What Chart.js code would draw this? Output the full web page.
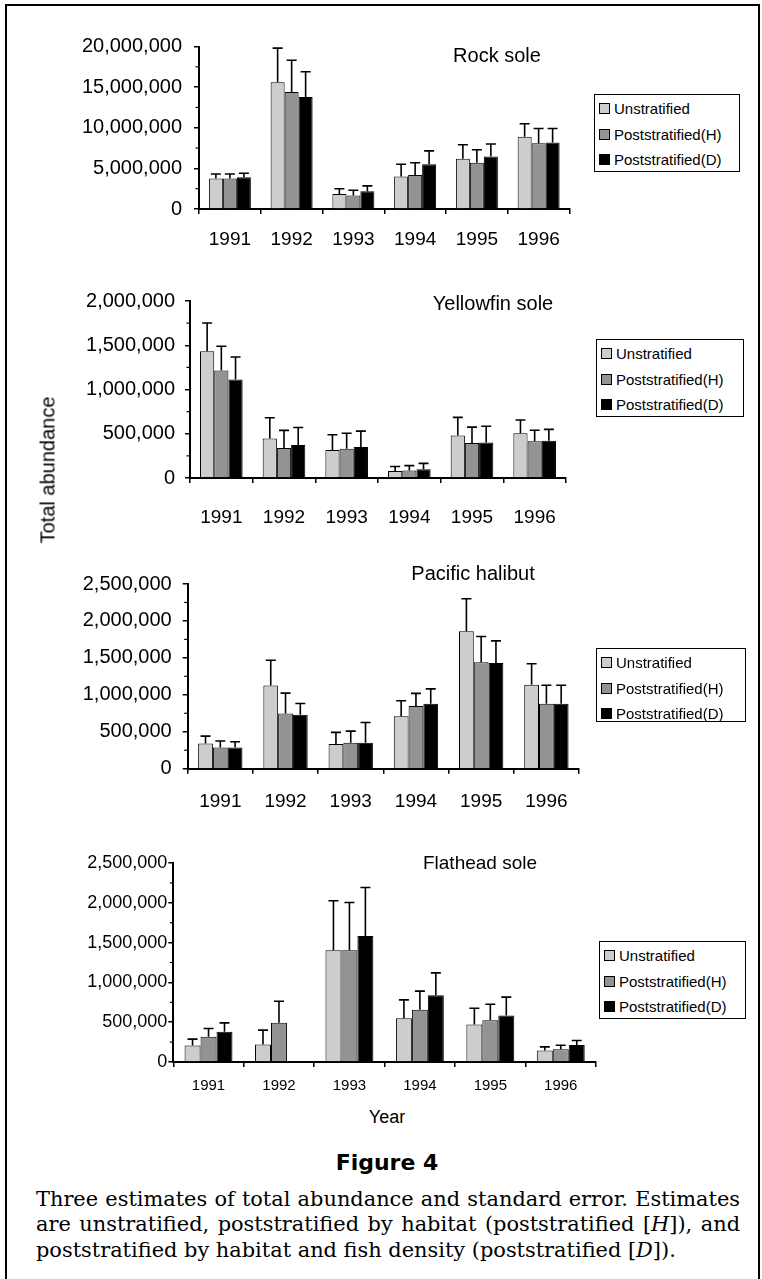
<!DOCTYPE html>
<html><head><meta charset="utf-8">
<script src="https://cdn.jsdelivr.net/npm/chart.js@4.4.1/dist/chart.umd.min.js"></script>
<style>
html,body{margin:0;padding:0;background:#fff;}
body{width:762px;height:1279px;position:relative;overflow:hidden;font-family:"Liberation Sans",Arimo,Roboto,Arial,sans-serif;color:#000;}
.frame{position:absolute;left:5px;top:4px;width:755px;height:1320px;border:2px solid #000;border-bottom:none;box-sizing:border-box;}
canvas{position:absolute;left:0;}
.title{position:absolute;font-size:20px;transform:translate(-50%,-50%);white-space:nowrap;}
.legend{position:absolute;border:1.5px solid #000;box-sizing:border-box;background:#fff;}
.li{position:absolute;left:4px;height:18px;font-size:15px;line-height:18px;white-space:nowrap;}
.sw{position:absolute;left:0;top:3px;width:11px;height:11px;border:1px solid #000;box-sizing:border-box;}
.lt{position:absolute;left:15px;top:0;}
.ylab{position:absolute;left:48px;top:470px;font-size:20px;white-space:nowrap;transform:translate(-50%,-50%) rotate(-90deg);}
.xlab{position:absolute;left:387px;top:1117px;font-size:18px;transform:translate(-50%,-50%);}
.fig{position:absolute;left:387px;top:1162px;font-family:"DejaVu Sans",sans-serif;font-weight:bold;font-size:22px;transform:translate(-50%,-50%);white-space:nowrap;}
.cap{position:absolute;left:36px;width:704px;font-family:"DejaVu Serif",serif;font-size:16.5px;line-height:20px;white-space:nowrap;}
.j{text-align:justify;text-align-last:justify;}
</style>
</head><body>
<div class="frame"></div>
<canvas id="c1"></canvas><canvas id="c2"></canvas><canvas id="c3"></canvas><canvas id="c4"></canvas>
<div class="ylab">Total abundance</div>
<div class="xlab">Year</div>
<div class="fig">Figure 4</div>
<div class="cap j" id="cap1" style="top:1189px">Three estimates of total abundance and standard error. Estimates</div>
<div class="cap j" id="cap2" style="top:1214px">are unstratified, poststratified by habitat (poststratified [<i>H</i>]), and</div>
<div class="cap" id="cap3" style="top:1240px">poststratified by habitat and fish density (poststratified [<i>D</i>]).</div>
<script>
// ---- data ----
const years = ["1991","1992","1993","1994","1995","1996"];
const seriesNames = ["Unstratified","Poststratified(H)","Poststratified(D)"];
const seriesColors = ["#cdcdcd","#939393","#000000"];
const speciesNames = ["Rock sole","Yellowfin sole","Pacific halibut","Flathead sole"];

const rockU = [3750000, 15600000, 1850000, 4000000, 6200000, 8900000];
const rockH = [3750000, 14400000, 1650000, 4200000, 5700000, 8100000];
const rockD = [3900000, 13800000, 2200000, 5500000, 6450000, 8200000];
const rockUSE = [550000, 4200000, 650000, 1500000, 1700000, 1600000];
const rockHSE = [550000, 3900000, 650000, 1500000, 1600000, 1800000];
const rockDSE = [500000, 3100000, 650000, 1650000, 1550000, 1700000];

const yfU = [1432000, 447000, 316000, 80000, 480000, 505000];
const yfH = [1214000, 338000, 330000, 85000, 395000, 415000];
const yfD = [1113000, 372000, 350000, 100000, 400000, 420000];
const yfUSE = [320000, 233000, 173000, 50000, 205000, 150000];
const yfHSE = [275000, 200000, 175000, 55000, 180000, 125000];
const yfDSE = [255000, 199000, 180000, 65000, 185000, 130000];

const phU = [342000, 1126000, 333000, 710000, 1860000, 1135000];
const phH = [288000, 748000, 351000, 850000, 1440000, 880000];
const phD = [288000, 730000, 351000, 880000, 1430000, 880000];
const phUSE = [99000, 342000, 158000, 210000, 440000, 285000];
const phHSE = [86000, 275000, 158000, 170000, 350000, 250000];
const phDSE = [77000, 153000, 275000, 200000, 300000, 250000];

const fhU = [208000, 221000, 1404000, 550000, 470000, 143000];
const fhH = [317000, 492000, 1404000, 655000, 525000, 160000];
const fhD = [379000, null, 1583000, 840000, 585000, 215000];
const fhUSE = [80000, 179000, 621000, 230000, 205000, 47000];
const fhHSE = [104000, 271000, 600000, 235000, 200000, 50000];
const fhDSE = [113000, null, 609000, 280000, 230000, 55000];

const yMax = [20000000, 2000000, 2500000, 2500000];
const yStep = [5000000, 500000, 500000, 500000];

// ---- caption fitting (font size so line 1 spans the caption width) ----
(function fitCaption(){
  const c1 = document.getElementById('cap1');
  const probe = document.createElement('span');
  probe.style.cssText = 'position:absolute;visibility:hidden;white-space:nowrap;font-family:"DejaVu Serif",serif;font-size:16.5px;';
  probe.innerHTML = c1.innerHTML;
  document.body.appendChild(probe);
  const w = probe.getBoundingClientRect().width;
  probe.remove();
  const fs = 16.5 * 700 / w;
  ['cap1','cap2','cap3'].forEach(id => { document.getElementById(id).style.fontSize = fs.toFixed(2) + 'px'; });
})();

// ---- plugins ----
const errorBars = {
  id: 'errorBars',
  afterDatasetsDraw(chart) {
    const ctx = chart.ctx, y = chart.scales.y;
    ctx.save();
    ctx.strokeStyle = '#000';
    ctx.lineWidth = 1.6;
    chart.data.datasets.forEach((ds, i) => {
      const meta = chart.getDatasetMeta(i);
      meta.data.forEach((bar, j) => {
        const v = ds.data[j], e = ds.errors[j];
        if (v == null || e == null) return;
        const top = y.getPixelForValue(v + e);
        ctx.beginPath();
        ctx.moveTo(bar.x, bar.y);
        ctx.lineTo(bar.x, top);
        ctx.moveTo(bar.x - 5, top);
        ctx.lineTo(bar.x + 5, top);
        ctx.stroke();
      });
    });
    ctx.restore();
  }
};
const minorTicks = {
  id: 'minorTicks',
  afterDraw(chart, args, opts) {
    const y = chart.scales.y, ctx = chart.ctx, step = opts.step;
    if (!step) return;
    ctx.save();
    ctx.strokeStyle = '#000';
    ctx.lineWidth = 1.2;
    for (let k = 1; k * step < y.max; k++) {
      if (k % 2 === 0) continue;
      const py = y.getPixelForValue(k * step);
      ctx.beginPath();
      ctx.moveTo(chart.chartArea.left - 3.5, py);
      ctx.lineTo(chart.chartArea.left, py);
      ctx.stroke();
    }
    ctx.restore();
  }
};

const FONT = '"Liberation Sans", Arimo, Roboto, Arial, sans-serif';

function makePanel(p) {
  const cv = document.getElementById(p.id);
  cv.width = 762; cv.height = p.ch;
  cv.style.top = p.ct + 'px';
  cv.style.width = '762px'; cv.style.height = p.ch + 'px';
  const xh = p.xh;
  const padTop = p.T - p.ct;
  const padRight = 762 - p.R;
  const padBottom = p.ch - (p.B - p.ct) - xh;
  new Chart(cv, {
    type: 'bar',
    data: {
      labels: years,
      datasets: seriesNames.map((n, i) => ({
        label: n, data: p.vals[i], errors: p.errs[i],
        backgroundColor: seriesColors[i], borderColor: '#000', borderWidth: 1,
        categoryPercentage: 0.68, barPercentage: 1.0
      }))
    },
    options: {
      responsive: false, animation: false, devicePixelRatio: 1,
      layout: { padding: { top: padTop, right: padRight, bottom: padBottom, left: 0 } },
      plugins: { legend: { display: false }, tooltip: { enabled: false }, minorTicks: { step: p.step / 2 } },
      scales: {
        x: {
          offset: true,
          grid: { display: true, drawOnChartArea: false, drawTicks: true, tickLength: 5, color: '#000', lineWidth: 1.5, offset: true },
          border: { display: true, color: '#000', width: 2 },
          ticks: { color: '#000', font: { family: FONT, size: p.xFont }, padding: p.xPad, maxRotation: 0, autoSkip: false },
          afterFit: s => { s.height = xh; }
        },
        y: {
          min: 0, max: p.max,
          grid: { display: true, drawOnChartArea: false, drawTicks: true, tickLength: p.tl, color: '#000', lineWidth: 1.5 },
          border: { display: true, color: '#000', width: 2 },
          ticks: { stepSize: p.step, color: '#000', font: { family: FONT, size: p.yFont }, padding: p.yPad,
                   callback: v => Number(v).toLocaleString('en-US') },
          afterFit: s => { s.width = p.L; }
        }
      }
    },
    plugins: [errorBars, minorTicks]
  });
  const t = document.createElement('div');
  t.className = 'title'; t.textContent = p.name;
  t.style.left = p.tx + 'px'; t.style.top = p.ty + 'px'; t.style.fontSize = p.tFont + 'px';
  document.body.appendChild(t);
  const lg = document.createElement('div');
  lg.className = 'legend';
  lg.style.left = p.lg[0] + 'px'; lg.style.top = p.lg[1] + 'px';
  lg.style.width = (p.lg[2] - p.lg[0]) + 'px'; lg.style.height = (p.lg[3] - p.lg[1]) + 'px';
  seriesNames.forEach((n, i) => {
    const li = document.createElement('div');
    li.className = 'li';
    li.style.top = (5 + i * 25.5) + 'px';
    const sw = document.createElement('span'); sw.className = 'sw'; sw.style.background = seriesColors[i];
    const tx = document.createElement('span'); tx.className = 'lt'; tx.textContent = n;
    li.appendChild(sw); li.appendChild(tx);
    lg.appendChild(li);
  });
  document.body.appendChild(lg);
}

makePanel({ id: 'c1', name: speciesNames[0], ct: 20, ch: 245, L: 199, R: 569.5, T: 46.5, B: 209, xh: 42,
  max: yMax[0], step: yStep[0], vals: [rockU, rockH, rockD], errs: [rockUSE, rockHSE, rockDSE],
  yFont: 20, xFont: 19, yPad: 12, xPad: 14, tl: 5, tx: 497, ty: 55, tFont: 20, lg: [594, 94, 740, 172] });
makePanel({ id: 'c2', name: speciesNames[1], ct: 275, ch: 265, L: 190, R: 566, T: 301, B: 478, xh: 52,
  max: yMax[1], step: yStep[1], vals: [yfU, yfH, yfD], errs: [yfUSE, yfHSE, yfDSE],
  yFont: 20, xFont: 19, yPad: 10, xPad: 23, tl: 5, tx: 493, ty: 303, tFont: 20, lg: [596, 339, 744, 417] });
makePanel({ id: 'c3', name: speciesNames[2], ct: 560, ch: 265, L: 187.7, R: 579, T: 584, B: 768.7, xh: 48,
  max: yMax[2], step: yStep[2], vals: [phU, phH, phD], errs: [phUSE, phHSE, phDSE],
  yFont: 20, xFont: 19, yPad: 11, xPad: 17, tl: 5, tx: 473, ty: 573, tFont: 20, lg: [596, 648, 746, 722] });
makePanel({ id: 'c4', name: speciesNames[3], ct: 845, ch: 260, L: 173.3, R: 596, T: 863, B: 1062, xh: 40,
  max: yMax[3], step: yStep[3], vals: [fhU, fhH, fhD], errs: [fhUSE, fhHSE, fhDSE],
  yFont: 18, xFont: 15, yPad: 1, xPad: 10, tl: 5, tx: 480, ty: 863, tFont: 19, lg: [599, 941, 746, 1019] });
</script>
</body></html>
